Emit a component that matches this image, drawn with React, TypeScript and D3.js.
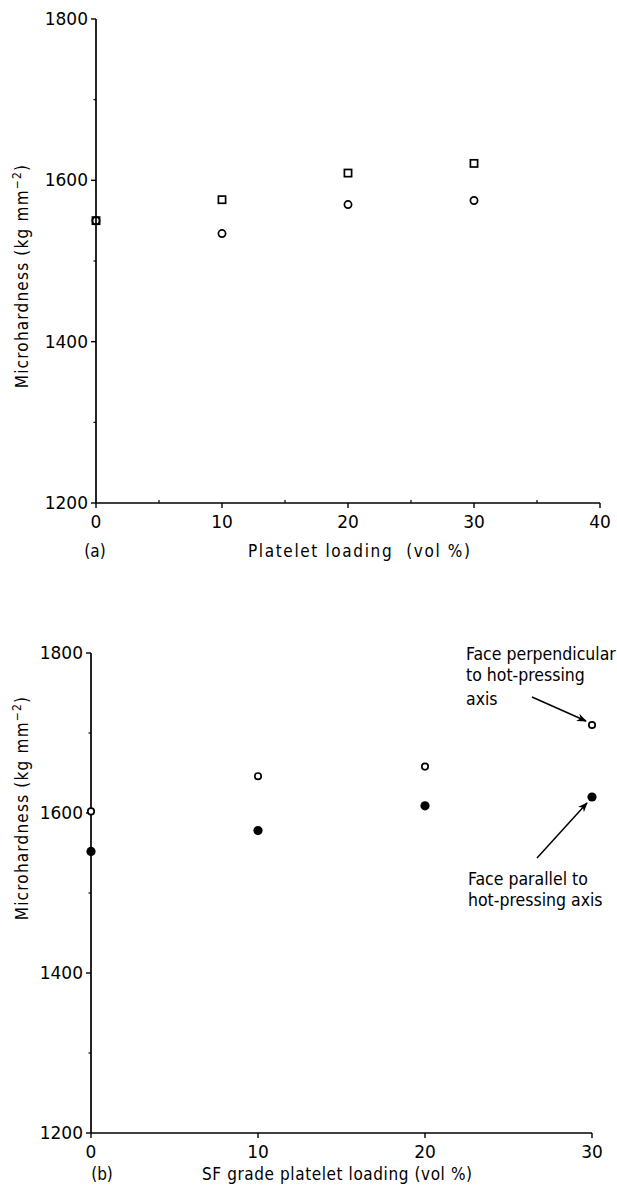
import React from 'react';
import * as d3 from 'd3';

// (a) platelet loading series
const loadingA = [0, 10, 20, 30];
const squareA = [1550, 1576, 1609, 1621];
const circleA = [1550, 1534, 1570, 1575];
const xTicksA = [0, 10, 20, 30, 40];
const xMinorA = [5, 15, 25, 35];

// (b) SF grade platelet loading series
const loadingB = [0, 10, 20, 30];
const perpendicularB = [1602, 1646, 1658, 1710];
const parallelB = [1552, 1578, 1609, 1620];
const xTicksB = [0, 10, 20, 30];

const yTicks = [1200, 1400, 1600, 1800];
const yMinor = [1300, 1500, 1700];

const font = '"DejaVu Sans Condensed", "DejaVu Sans", sans-serif';
const tickFont = '"DejaVu Sans", sans-serif';

function YLabel({ x, y }: { x: number; y: number }) {
  return (
    <text transform={`translate(${x},${y}) rotate(-90)`} textAnchor="middle" fontSize={17} letterSpacing={1.2}>
      Microhardness (kg mm
      <tspan dy={-7} fontSize={12}>−2</tspan>
      <tspan dy={7}>)</tspan>
    </text>
  );
}

function Axes({ x, y, ticks, minor }: any) {
  const [x0, x1] = x.range();
  const yb = y(1200);
  return (
    <g stroke="#000" fill="none">
      <line x1={x0} x2={x0} y1={y(1800)} y2={yb} strokeWidth={1.7} />
      <line x1={x0} x2={x1} y1={yb} y2={yb} strokeWidth={1.7} />
      {yTicks.map((t) => (
        <line key={t} x1={x0 - 5} x2={x0} y1={y(t)} y2={y(t)} strokeWidth={1.4} />
      ))}
      {yMinor.map((t) => (
        <line key={t} x1={x0 - 2.5} x2={x0} y1={y(t)} y2={y(t)} strokeWidth={1.2} />
      ))}
      {ticks.map((t: number) => (
        <line key={t} x1={x(t)} x2={x(t)} y1={yb} y2={yb + 5} strokeWidth={1.4} />
      ))}
      {minor.map((t: number) => (
        <line key={t} x1={x(t)} x2={x(t)} y1={yb - 3} y2={yb} strokeWidth={1.2} />
      ))}
      <g fill="#000" stroke="none" fontSize={17} fontFamily={tickFont}>
        {yTicks.map((t) => (
          <text key={t} x={x0 - 8} y={y(t) + 6} textAnchor="end">{t}</text>
        ))}
        {ticks.map((t: number) => (
          <text key={t} x={x(t)} y={yb + 25} textAnchor="middle">{t}</text>
        ))}
      </g>
    </g>
  );
}

export default function App() {
  const xA = d3.scaleLinear().domain([0, 40]).range([96, 600]);
  const yA = d3.scaleLinear().domain([1200, 1800]).range([503, 19]);
  const xB = d3.scaleLinear().domain([0, 30]).range([91, 592]);
  const yB = d3.scaleLinear().domain([1200, 1800]).range([1133, 653]);

  const tipPerp = [xB(30) - 6, yB(perpendicularB[3]) - 4];
  const tipPar = [xB(30) - 5, yB(parallelB[3]) + 6];

  return (
    <svg
      width={617}
      height={1190}
      style={{ position: 'absolute', left: 0, top: 0, background: '#fff' }}
      fontFamily={font}
    >
      <defs>
        <marker id="ah" viewBox="0 0 10 10" refX={9} refY={5} markerWidth={10} markerHeight={10} orient="auto" markerUnits="userSpaceOnUse">
          <path d="M0,1 L10,5 L0,9 L3,5 Z" fill="#000" />
        </marker>
      </defs>

      {/* panel (a) */}
      <Axes x={xA} y={yA} ticks={xTicksA} minor={xMinorA} />
      <YLabel x={28} y={276} />
      <text x={95} y={557} textAnchor="middle" fontSize={17}>(a)</text>
      <text x={248} y={557} fontSize={17} textLength={222} lengthAdjust="spacing" style={{ whiteSpace: 'pre' }}>Platelet loading  (vol %)</text>
      <g fill="none" stroke="#000" strokeWidth={1.7}>
        {loadingA.map((d, i) => (
          <circle key={'c' + i} cx={xA(d)} cy={yA(circleA[i])} r={3.6} />
        ))}
        {loadingA.map((d, i) => (
          <rect key={'s' + i} x={xA(d) - 3.6} y={yA(squareA[i]) - 3.6} width={7.2} height={7.2} />
        ))}
      </g>

      {/* panel (b) */}
      <Axes x={xB} y={yB} ticks={xTicksB} minor={[]} />
      <YLabel x={28} y={808} />
      <text x={102} y={1180} textAnchor="middle" fontSize={17}>(b)</text>
      <text x={202} y={1180} fontSize={17} textLength={270} lengthAdjust="spacing">SF grade platelet loading (vol %)</text>
      <g>
        {loadingB.map((d, i) => (
          <circle key={'p' + i} cx={xB(d)} cy={yB(perpendicularB[i])} r={3.2} fill="#fff" stroke="#000" strokeWidth={1.7} />
        ))}
        {loadingB.map((d, i) => (
          <circle key={'f' + i} cx={xB(d)} cy={yB(parallelB[i])} r={4.6} fill="#000" />
        ))}
      </g>

      <g fontSize={17.5}>
        <text x={466} y={660}>Face perpendicular</text>
        <text x={466} y={681}>to hot-pressing</text>
        <text x={466} y={705}>axis</text>
        <text x={468} y={885}>Face parallel to</text>
        <text x={468} y={906}>hot-pressing axis</text>
      </g>
      <line x1={532} y1={697} x2={tipPerp[0]} y2={tipPerp[1]} stroke="#000" strokeWidth={1.5} markerEnd="url(#ah)" />
      <line x1={537} y1={858} x2={tipPar[0]} y2={tipPar[1]} stroke="#000" strokeWidth={1.5} markerEnd="url(#ah)" />
    </svg>
  );
}
